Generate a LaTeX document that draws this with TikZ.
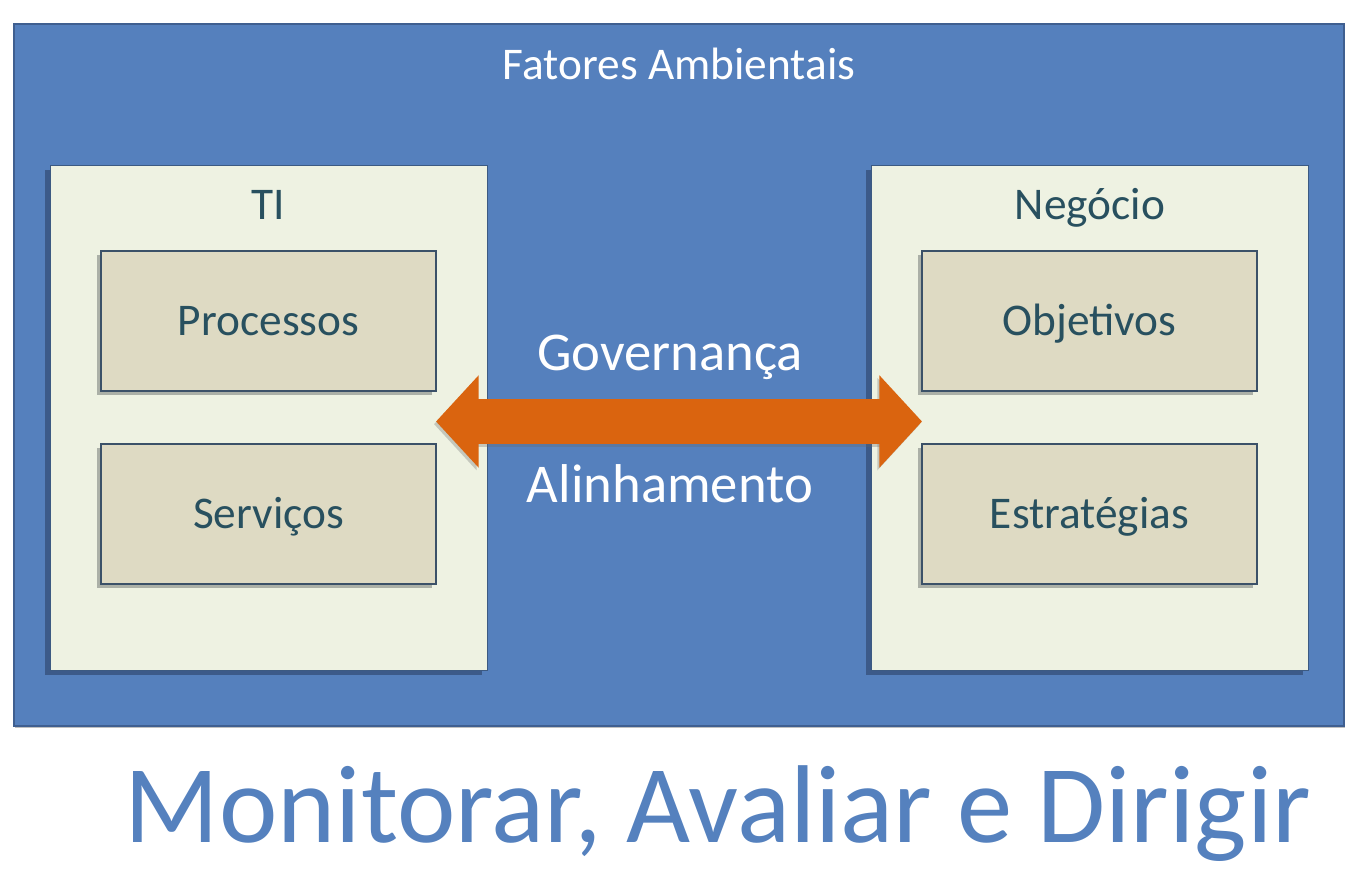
\documentclass[tikz,border=0pt]{standalone}
\usepackage{fontspec}
\setmainfont{Carlito}
\usepackage{xcolor}
\usepackage{tikz}
\usetikzlibrary{arrows.meta,positioning,shadows}
\definecolor{envblue}{HTML}{5580BD}
\definecolor{envedge}{HTML}{3F5F90}
\definecolor{panelfill}{HTML}{EEF2E2}
\definecolor{paneledge}{HTML}{3C5A82}
\definecolor{panelshadow}{HTML}{3A5684}
\definecolor{itemfill}{HTML}{DEDAC3}
\definecolor{itemedge}{HTML}{3B5168}
\definecolor{itemshadow}{HTML}{7F8480}
\definecolor{darkteal}{HTML}{28505F}
\definecolor{govorange}{HTML}{DA640F}
\definecolor{titleblue}{HTML}{5581BE}
\tikzset{
  envbox/.style={draw=envedge, fill=envblue, line width=1.6pt, minimum width=997.5pt, minimum height=526.5pt, inner sep=0pt,
    drop shadow={shadow xshift=1pt, shadow yshift=-1.5pt, fill=black, opacity=0.25}},
  panel/.style={draw=paneledge, fill=panelfill, line width=0.7pt, minimum width=327.75pt, minimum height=378.75pt, inner sep=0pt,
    drop shadow={shadow xshift=-4pt, shadow yshift=-4pt, fill=panelshadow, opacity=0.9}},
  itembox/.style={draw=itemedge, fill=itemfill, line width=1.3pt, minimum width=251.25pt, minimum height=105pt, inner sep=0pt,
    text=darkteal, font=\fontsize{34}{40}\selectfont, text height=21.8pt, text depth=0pt,
    drop shadow={shadow xshift=-3pt, shadow yshift=-3pt, fill=itemshadow, opacity=0.6}},
  panellabel/.style={text=darkteal, font=\fontsize{34}{40}\selectfont, anchor=base, inner sep=0pt},
  envlabel/.style={text=white, font=\fontsize{34}{40}\selectfont, anchor=base, inner sep=0pt},
  govlabel/.style={text=white, font=\fontsize{41}{48}\selectfont, anchor=base, inner sep=0pt},
  govarrow/.style={govorange, line width=33.75pt, {Triangle[length=32pt,width=67.5pt]}-{Triangle[length=32pt,width=67.5pt]}},
  arrowshadow/.style={black!60, opacity=0.3, line width=33.75pt, {Triangle[length=32pt,width=67.5pt]}-{Triangle[length=32pt,width=67.5pt]}}
}
\begin{document}
\begin{tikzpicture}[x=0.75pt,y=-0.75pt]
  \useasboundingbox (0,0) rectangle (1362,873);
  % outer frame
  \node[envbox] (env) at (679,375) {};
  \node[envlabel] (envtitle) at (679,80) {Fatores Ambientais};
  % the two sides
  \node[panel] (ti) at (268.5,417.5) {};
  \node[panel] (neg) at (1090,417.5) {};
  \node[panellabel] (tititle) at (268.5,220) {TI};
  \node[panellabel] (negtitle) at (1090,220) {Negócio};
  \node[itembox] (proc) at (268.5,321) {Processos};
  \node[itembox] (serv) at (268.5,514) {Serviços};
  \node[itembox] (obj) at (1089.5,321) {Objetivos};
  \node[itembox] (estr) at (1089.5,514) {Estratégias};
  % governance arrow
  \draw[arrowshadow, shorten <=-38.6pt, shorten >=-38.25pt] ([xshift=-1.5pt,yshift=-5pt]ti.east) -- ([xshift=-1.5pt,yshift=-5pt]neg.west);
  \draw[govarrow, shorten <=-38.6pt, shorten >=-38.25pt] ([yshift=-3pt]ti.east) -- ([yshift=-3pt]neg.west);
  \node[govlabel] (gov) at (670,370) {Governança};
  \node[govlabel] (alin) at (670,502) {Alinhamento};
  % caption
  \node[text=titleblue, font=\fontsize{83}{98}\selectfont, anchor=base, inner sep=0pt] (mad) at (718,842) {Monitorar, Avaliar e Dirigir};
\end{tikzpicture}
\end{document}
